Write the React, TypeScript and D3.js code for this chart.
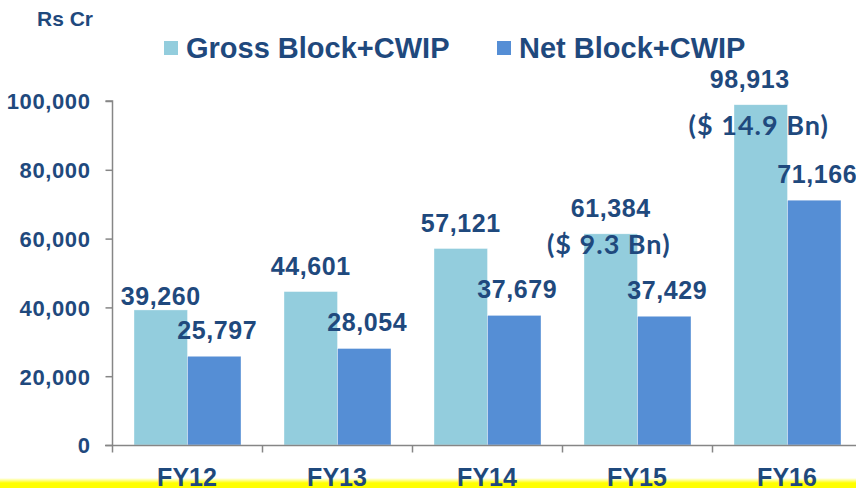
import React, { useRef, useEffect } from 'react'
import * as d3 from 'd3'

const years = ['FY12', 'FY13', 'FY14', 'FY15', 'FY16']
const grossBlock = [39260, 44601, 57121, 61384, 98913]
const netBlock = [25797, 28054, 37679, 37429, 71166]
const seriesNames = ['Gross Block+CWIP', 'Net Block+CWIP']
const yTicks = [0, 20000, 40000, 60000, 80000, 100000]
const usdNotes = [
  { year: 'FY15', text: '($ 9.3 Bn)' },
  { year: 'FY16', text: '($ 14.9 Bn)' }
]

const App = () => {
  const chart = useRef<SVGSVGElement>(null)
  const width = 856
  const height = 488
  const textColor = '#1F497D'
  const colors = ['#93CDDD', '#558ED5']

  useEffect(() => {
    const svg = d3.select(chart.current)
    svg.selectAll('*').remove()

    const x0 = d3.scaleBand().domain(years).range([112, 862]).padding(0)
    const x1 = d3.scaleBand().domain(seriesNames).range([22, 129]).padding(0)
    const y = d3.scaleLinear().domain([0, 100000]).range([445, 101])

    // yellow footer band (drawn first, axis labels sit on top)
    const grad = svg.append('defs').append('linearGradient')
      .attr('id', 'yband').attr('x1', 0).attr('x2', 0).attr('y1', 0).attr('y2', 1)
    grad.append('stop').attr('offset', '0%').attr('stop-color', '#FFFFFF')
    grad.append('stop').attr('offset', '50%').attr('stop-color', '#FFFF00')
    grad.append('stop').attr('offset', '100%').attr('stop-color', '#FFFF00')
    svg.append('rect')
      .attr('x', 0).attr('y', 478)
      .attr('width', width).attr('height', 10)
      .attr('fill', 'url(#yband)')

    // bars
    const series = [grossBlock, netBlock]
    series.forEach((vals, si) => {
      svg.append('g')
        .selectAll('rect')
        .data(vals)
        .join('rect')
        .attr('x', (d, i) => x0(years[i])! + x1(seriesNames[si])!)
        .attr('y', d => y(d))
        .attr('width', x1.bandwidth())
        .attr('height', d => y(0) - y(d))
        .attr('fill', colors[si])
        .attr('stroke', '#ffffff')
        .attr('stroke-opacity', 0.6)
        .attr('stroke-width', 0.6)
    })

    // axes
    const yAxis = svg.append('g')
      .attr('transform', 'translate(112.5,0)')
      .call(d3.axisLeft(y).tickValues(yTicks).tickSize(7).tickFormat(d3.format(',')))
    yAxis.select('.domain').attr('stroke', '#868686').attr('stroke-width', 1.5)
      .attr('d', 'M-7,101H0V445')
    yAxis.selectAll('.tick line').attr('stroke', '#868686').attr('stroke-width', 1.5)
    yAxis.selectAll('.tick text')
      .attr('x', -22)
      .attr('dy', '0.36em')
      .attr('fill', textColor)
      .style('font', 'bold 22px "Liberation Sans", Arial, sans-serif')
      .style('letter-spacing', '0.6px')

    const xAxis = svg.append('g').attr('transform', 'translate(0,445.5)')
    xAxis.append('line')
      .attr('x1', 105).attr('x2', 862)
      .attr('stroke', '#868686').attr('stroke-width', 1.5)
    xAxis.selectAll('line.tk')
      .data(years)
      .join('line')
      .attr('class', 'tk')
      .attr('x1', d => x0(d)! + 0.5).attr('x2', d => x0(d)! + 0.5)
      .attr('y1', 0).attr('y2', 7)
      .attr('stroke', '#868686').attr('stroke-width', 1.5)
    xAxis.selectAll('text')
      .data(years)
      .join('text')
      .attr('x', d => x0(d)! + x0.bandwidth() / 2)
      .attr('y', 40.5)
      .attr('text-anchor', 'middle')
      .attr('fill', textColor)
      .style('font', 'bold 25px "Liberation Sans", Arial, sans-serif')
      .text(d => d)

    // value labels
    const fmt = d3.format(',')
    const lift = (si: number, i: number) => (si === 0 && i === 0 ? 5 : 17)
    series.forEach((vals, si) => {
      svg.append('g')
        .selectAll('text')
        .data(vals)
        .join('text')
        .attr('x', (d, i) => x0(years[i])! + x1(seriesNames[si])! + x1.bandwidth() / 2 + (si === 0 && i === 4 ? -11 : si === 1 ? 3 : 0))
        .attr('y', (d, i) => y(d) - lift(si, i))
        .attr('text-anchor', 'middle')
        .attr('fill', textColor)
        .style('font', 'bold 25px "Liberation Sans", Arial, sans-serif')
        .style('letter-spacing', '0.6px')
        .text(d => fmt(d))
    })

    // USD notes
    const noteDrop: Record<string, number> = { FY15: 37, FY16: 47 }
    svg.append('g')
      .selectAll('text')
      .data(usdNotes)
      .join('text')
      .attr('x', d => x0(d.year)! + x1(seriesNames[0])! + x1.bandwidth() / 2 - 2)
      .attr('y', d => y(grossBlock[years.indexOf(d.year)]) - 17 + noteDrop[d.year])
      .attr('text-anchor', 'middle')
      .attr('fill', textColor)
      .style('font', 'bold 27px Lato, "Open Sans", sans-serif')
      .style('letter-spacing', '1px')
      .text(d => d.text)

    // unit
    svg.append('text')
      .attr('x', 37).attr('y', 26)
      .attr('fill', textColor)
      .style('font', 'bold 21px "Liberation Sans", Arial, sans-serif')
      .text('Rs Cr')

    // legend
    const legendX = [164, 497]
    seriesNames.forEach((name, si) => {
      const g = svg.append('g').attr('transform', `translate(${legendX[si]},41)`)
      g.append('rect').attr('width', 14).attr('height', 14).attr('fill', colors[si])
      g.append('text')
        .attr('x', 22).attr('y', 17)
        .attr('fill', textColor)
        .style('font', 'bold 29px "Liberation Sans", Arial, sans-serif')
        .text(name)
    })
  }, [])

  return (
    <svg
      ref={chart}
      width={width}
      height={height}
      style={{ position: 'absolute', left: 0, top: 0, background: '#ffffff' }}
    />
  )
}

export default App
